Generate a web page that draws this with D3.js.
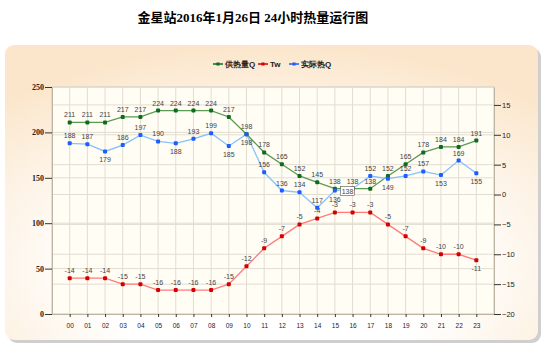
<html>
  <head>
    <style>
      body { margin:0; background:#fff; font-family:"Liberation Sans", Arial, sans-serif; }
      .grid line { stroke:#e2ddd2; stroke-width:1; }
      .lbl { font-size:7px; fill:#444; text-anchor:middle; }
      .axis text { font-size:7.5px; fill:#222; }
      .axis .domain { stroke:#bdb4a4; }
      .axis .tick line { stroke:#333; }
    </style>
  </head>
  <body>
    <div class="chart"></div>
    <script src="https://cdn.jsdelivr.net/npm/d3@7"></script>
    <script>
      var title = "金星站2016年1月26日 24小时热量运行图";
      var hours = ["00","01","02","03","04","05","06","07","08","09","10","11",
                   "12","13","14","15","16","17","18","19","20","21","22","23"];
      var supplyQ = [211,211,211,217,217,224,224,224,224,217,198,178,165,152,145,138,138,138,152,165,178,184,184,191];
      var tw = [-14,-14,-14,-15,-15,-16,-16,-16,-16,-15,-12,-9,-7,-5,-4,-3,-3,-3,-5,-7,-9,-10,-10,-11];
      var actualQ = [188,187,179,186,197,190,188,193,199,185,198,156,136,134,117,136,138,152,149,152,157,153,169,155];
      var leftTicks = [0,50,100,150,200,250];
      var rightTicks = [-20,-15,-10,-5,0,5,10,15];
      var names = ["供热量Q","Tw","实际热Q"];

      // labels drawn under the point instead of above
      var actualBelow = [2,6,9,10,15,18,21,23];
      var twBelow = [23];
      var hiIndex = 16;

      var width = 546, height = 353;
      var pL = 52, pR = 494, pT = 87, pB = 314;

      var svg = d3.select(".chart").append("svg")
        .attr("width", width)
        .attr("height", height);

      var defs = svg.append("defs");
      var bg = defs.append("radialGradient").attr("id", "bg")
        .attr("cx", "0.5").attr("cy", "0.75").attr("r", "0.75");
      bg.append("stop").attr("offset", "0.45").attr("stop-color", "#ffffff");
      bg.append("stop").attr("offset", "1").attr("stop-color", "#fbe6cb");

      // panel shadow + panel
      svg.append("rect").attr("x", 8).attr("y", 48).attr("width", 533).attr("height", 295)
        .attr("rx", 9).attr("fill", "#cfcfcf");
      svg.append("rect").attr("x", 5).attr("y", 45).attr("width", 533).attr("height", 295)
        .attr("rx", 9).attr("fill", "url(#bg)");

      svg.append("text")
        .attr("x", 253).attr("y", 22)
        .attr("text-anchor", "middle")
        .style("font-family", "'Liberation Serif', 'Noto Sans CJK SC', serif")
        .style("font-weight", "bold")
        .style("font-size", "13px")
        .text(title);

      var x = d3.scaleLinear().domain([-1, 24]).range([pL, pR]);
      var yL = d3.scaleLinear().domain([0, 250]).range([pB, pT]);
      var yR = d3.scaleLinear().domain([-20, 18]).range([pB, pT]);

      svg.append("rect").attr("x", pL).attr("y", pT)
        .attr("width", pR - pL).attr("height", pB - pT)
        .attr("fill", "#fffdf4").attr("stroke", "#cfc6b6");

      var grid = svg.append("g").attr("class", "grid");
      grid.selectAll(".v").data(hours).enter().append("line")
        .attr("x1", function (d, i) { return x(i); })
        .attr("x2", function (d, i) { return x(i); })
        .attr("y1", pT).attr("y2", pB);
      grid.selectAll(".hl").data(leftTicks.slice(1)).enter().append("line")
        .attr("x1", pL).attr("x2", pR)
        .attr("y1", function (d) { return yL(d); })
        .attr("y2", function (d) { return yL(d); });
      grid.selectAll(".hr").data(rightTicks.slice(1)).enter().append("line")
        .attr("x1", pL).attr("x2", pR)
        .attr("y1", function (d) { return yR(d); })
        .attr("y2", function (d) { return yR(d); });

      var axL = svg.append("g").attr("class", "axis")
        .attr("transform", "translate(" + pL + ",0)")
        .call(d3.axisLeft(yL).tickValues(leftTicks).tickSize(7).tickPadding(1).tickSizeOuter(0));
      axL.selectAll("text").style("font-weight", "bold").style("font-family", "'Liberation Serif', serif").style("font-size", "8px");

      svg.append("g").attr("class", "axis")
        .attr("transform", "translate(" + pR + ",0)")
        .call(d3.axisRight(yR).tickValues(rightTicks).tickSize(7).tickPadding(1).tickSizeOuter(0));

      var axB = svg.append("g").attr("class", "axis")
        .attr("transform", "translate(0," + pB + ")")
        .call(d3.axisBottom(x).tickValues(d3.range(hours.length))
          .tickFormat(function (i) { return hours[i]; }).tickSize(3).tickPadding(6).tickSizeOuter(0));
      axB.select(".domain").attr("d", "M" + pL + ",0.5H" + pR);
      axB.selectAll("text").style("font-size", "6.5px").style("fill", "#223");

      var series = [
        { vals: supplyQ, y: yL, line: "#5b9a52", dot: "#0b6b1e", below: [] },
        { vals: tw, y: yR, line: "#ff7a7a", dot: "#d40000", below: twBelow },
        { vals: actualQ, y: yL, line: "#86c1ff", dot: "#1e5cff", below: actualBelow }
      ];

      series.forEach(function (s) {
        var ln = d3.line()
          .x(function (d, i) { return x(i); })
          .y(function (d) { return s.y(d); });
        svg.append("path").datum(s.vals)
          .attr("d", ln).attr("fill", "none")
          .attr("stroke", s.line).attr("stroke-width", 1.3);
      });

      series.forEach(function (s, k) {
        var g = svg.append("g");
        g.selectAll("rect").data(s.vals).enter().append("rect")
          .attr("x", function (d, i) { return x(i) - 2; })
          .attr("y", function (d) { return s.y(d) - 2; })
          .attr("width", 4).attr("height", 4).attr("rx", 1)
          .attr("fill", function (d, i) { return (k == 2 && i == hiIndex) ? "#000" : s.dot; });
        g.selectAll("text").data(s.vals).enter().append("text")
          .attr("class", "lbl")
          .attr("x", function (d, i) { return x(i); })
          .attr("y", function (d, i) {
            return s.below.indexOf(i) >= 0 ? s.y(d) + 11 : s.y(d) - 5;
          })
          .text(function (d, i) { return (k == 2 && i == hiIndex) ? "" : d; });
      });

      // highlighted point label box
      var hx = x(hiIndex) - 12, hy = yL(actualQ[hiIndex]) - 2;
      svg.append("rect").attr("x", hx).attr("y", hy).attr("width", 14).attr("height", 9)
        .attr("fill", "#fff").attr("stroke", "#555").attr("stroke-width", 0.6);
      svg.append("text").attr("class", "lbl").attr("x", hx + 7).attr("y", hy + 7)
        .text(actualQ[hiIndex]);

      // legend
      var legend = svg.append("g").attr("transform", "translate(213,64)");
      var lx = [0, 45, 76];
      series.forEach(function (s, k) {
        var g = legend.append("g").attr("transform", "translate(" + lx[k] + ",0)");
        g.append("line").attr("x1", 0).attr("x2", 10).attr("y1", 0).attr("y2", 0)
          .attr("stroke", s.dot).attr("stroke-width", 1.5);
        g.append("rect").attr("x", 3.5).attr("y", -1.5).attr("width", 3).attr("height", 3).attr("fill", s.dot);
        g.append("text").attr("x", 12).attr("y", 3)
          .style("font-size", "8px").style("font-weight", "bold").style("fill", "#222")
          .text(names[k]);
      });
    </script>
  </body>
</html>
